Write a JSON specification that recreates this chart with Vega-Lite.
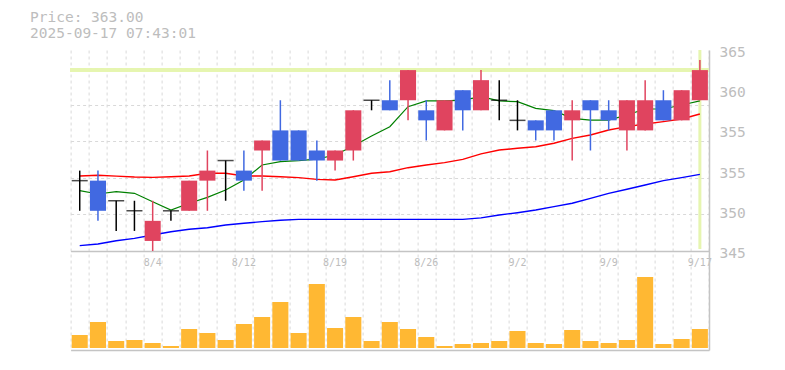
{
  "$schema": "https://vega.github.io/schema/vega-lite/v6.json",
  "width": 638.4,
  "height": 300,
  "autosize": {"type": "none"},
  "padding": {"left": 70.6, "top": 50, "right": 76, "bottom": 20},
  "background": "white",
  "title": {
    "text": ["Price: 363.00", "2025-09-17 07:43:01"],
    "anchor": "start",
    "frame": "group",
    "dx": -40.6,
    "offset": 3,
    "font": "DejaVu Sans Mono",
    "fontSize": 14.5,
    "fontWeight": "normal",
    "color": "#bdbdbd",
    "lineHeight": 16.5
  },
  "config": {
    "view": {"stroke": null},
    "axis": {"title": null, "labelFont": "DejaVu Sans Mono", "labelColor": "#bdbdbd", "gridColor": "#d9d9d9", "gridDash": [3, 3], "gridWidth": 1, "domainColor": "#c4c4c4"}
  },
  "data": {
    "values": [
      {"d": "7/29", "o": 352, "h": 353, "l": 349, "c": 352, "v": 13, "m5": 351.0, "m25": 352.46, "m75": 345.53},
      {"d": "7/30", "o": 352, "h": 353, "l": 348, "c": 349, "v": 26, "m5": 350.67, "m25": 352.53, "m75": 345.7},
      {"d": "7/31", "o": 350, "h": 350, "l": 347, "c": 350, "v": 7, "m5": 350.9, "m25": 352.45, "m75": 346.02},
      {"d": "8/1", "o": 349, "h": 350, "l": 347, "c": 349, "v": 8, "m5": 350.74, "m25": 352.36, "m75": 346.26},
      {"d": "8/4", "o": 346, "h": 350, "l": 345, "c": 348, "v": 5, "m5": 349.9, "m25": 352.33, "m75": 346.59},
      {"d": "8/5", "o": 349, "h": 349, "l": 348, "c": 349, "v": 2, "m5": 349.08, "m25": 352.39, "m75": 346.92},
      {"d": "8/6", "o": 349, "h": 352, "l": 349, "c": 352, "v": 19, "m5": 349.75, "m25": 352.46, "m75": 347.16},
      {"d": "8/7", "o": 352, "h": 355, "l": 349, "c": 353, "v": 15, "m5": 350.34, "m25": 352.73, "m75": 347.32},
      {"d": "8/8", "o": 354, "h": 354, "l": 350, "c": 354, "v": 8, "m5": 351.07, "m25": 352.73, "m75": 347.59},
      {"d": "8/12", "o": 353, "h": 355, "l": 351, "c": 352, "v": 24, "m5": 352.06, "m25": 352.46, "m75": 347.76},
      {"d": "8/13", "o": 355, "h": 356, "l": 351, "c": 356, "v": 31, "m5": 353.56, "m25": 352.46, "m75": 347.92},
      {"d": "8/14", "o": 357, "h": 360, "l": 354, "c": 354, "v": 46, "m5": 353.9, "m25": 352.39, "m75": 348.06},
      {"d": "8/15", "o": 357, "h": 357, "l": 354, "c": 354, "v": 15, "m5": 354.0, "m25": 352.3, "m75": 348.15},
      {"d": "8/18", "o": 355, "h": 356, "l": 352, "c": 354, "v": 64, "m5": 354.15, "m25": 352.13, "m75": 348.15},
      {"d": "8/19", "o": 354, "h": 355, "l": 353, "c": 355, "v": 20, "m5": 354.55, "m25": 352.06, "m75": 348.15},
      {"d": "8/20", "o": 355, "h": 359, "l": 354, "c": 359, "v": 31, "m5": 355.45, "m25": 352.39, "m75": 348.15},
      {"d": "8/21", "o": 360, "h": 360, "l": 359, "c": 360, "v": 7, "m5": 356.44, "m25": 352.73, "m75": 348.15},
      {"d": "8/22", "o": 360, "h": 362, "l": 359, "c": 359, "v": 26, "m5": 357.37, "m25": 352.89, "m75": 348.15},
      {"d": "8/25", "o": 360, "h": 363, "l": 358, "c": 363, "v": 19, "m5": 359.36, "m25": 353.29, "m75": 348.15},
      {"d": "8/26", "o": 359, "h": 360, "l": 356, "c": 358, "v": 11, "m5": 359.93, "m25": 353.56, "m75": 348.15},
      {"d": "8/27", "o": 357, "h": 360, "l": 357, "c": 360, "v": 2, "m5": 359.93, "m25": 353.79, "m75": 348.15},
      {"d": "8/28", "o": 361, "h": 361, "l": 357, "c": 359, "v": 4, "m5": 360.02, "m25": 354.12, "m75": 348.15},
      {"d": "8/29", "o": 359, "h": 363, "l": 359, "c": 362, "v": 5, "m5": 360.35, "m25": 354.67, "m75": 348.3},
      {"d": "9/1", "o": 360, "h": 362, "l": 358, "c": 360, "v": 7, "m5": 359.93, "m25": 355.05, "m75": 348.58},
      {"d": "9/2", "o": 358, "h": 360, "l": 357, "c": 358, "v": 17, "m5": 359.86, "m25": 355.22, "m75": 348.81},
      {"d": "9/3", "o": 358, "h": 358, "l": 356, "c": 357, "v": 5, "m5": 359.2, "m25": 355.38, "m75": 349.08},
      {"d": "9/4", "o": 359, "h": 359, "l": 356, "c": 357, "v": 4, "m5": 358.96, "m25": 355.72, "m75": 349.41},
      {"d": "9/5", "o": 358, "h": 360, "l": 354, "c": 359, "v": 18, "m5": 358.2, "m25": 356.21, "m75": 349.75},
      {"d": "9/8", "o": 360, "h": 360, "l": 355, "c": 359, "v": 7, "m5": 358.03, "m25": 356.54, "m75": 350.24},
      {"d": "9/9", "o": 359, "h": 360, "l": 357, "c": 358, "v": 5, "m5": 358.03, "m25": 357.04, "m75": 350.74},
      {"d": "9/10", "o": 357, "h": 360, "l": 355, "c": 360, "v": 8, "m5": 358.53, "m25": 357.37, "m75": 351.14},
      {"d": "9/11", "o": 357, "h": 362, "l": 357, "c": 360, "v": 71, "m5": 359.13, "m25": 357.64, "m75": 351.57},
      {"d": "9/12", "o": 360, "h": 361, "l": 358, "c": 358, "v": 4, "m5": 359.13, "m25": 357.87, "m75": 352.0},
      {"d": "9/16", "o": 358, "h": 361, "l": 358, "c": 361, "v": 9, "m5": 359.53, "m25": 358.13, "m75": 352.3},
      {"d": "9/17", "o": 360, "h": 364, "l": 360, "c": 363, "v": 19, "m5": 359.93, "m25": 358.63, "m75": 352.63}
    ]
  },
  "resolve": {"scale": {"y": "independent"}, "axis": {"x": "independent", "y": "independent"}},
  "layer": [
    {
      "layer": [
        {
          "mark": {"type": "rule", "color": "#e6f5b0", "strokeWidth": 3},
          "encoding": {
            "y": {"datum": 363, "type": "quantitative", "scale": {"domain": [345, 365], "range": [201, 0], "nice": false, "zero": false},
              "axis": {"orient": "right", "values": [345, 349, 353, 357, 361, 365], "labelExpr": "format(round(datum.value/5)*5, 'd')", "grid": false, "ticks": false, "domain": false, "labelPadding": 10, "labelFontSize": 14.5, "labelOffset": 2.5, "labelFlush": false, "labelOverlap": false, "title": null}}
          }
        },
        {
          "transform": [{"filter": "datum.d == '9/17'"}],
          "mark": {"type": "rule", "color": "#e6f5b0", "strokeWidth": 3},
          "encoding": {
            "x": {"field": "d", "type": "ordinal",
              "scale": {"type": "band", "domain": ["7/29","7/30","7/31","8/1","8/4","8/5","8/6","8/7","8/8","8/12","8/13","8/14","8/15","8/18","8/19","8/20","8/21","8/22","8/25","8/26","8/27","8/28","8/29","9/1","9/2","9/3","9/4","9/5","9/8","9/9","9/10","9/11","9/12","9/16","9/17"], "paddingInner": 0, "paddingOuter": 0},
              "axis": {"orient": "bottom", "offset": -99, "values": ["8/4","8/12","8/19","8/26","9/2","9/9","9/17"], "grid": false, "ticks": false, "tickSize": 0, "domain": true, "domainWidth": 1.5, "labelPadding": 6, "labelFontSize": 10, "labelAngle": 0, "labelOverlap": false, "title": null}},
            "y": {"datum": 365, "type": "quantitative"},
            "y2": {"datum": 345.2}
          }
        }
      ]
    },
    {
      "mark": {"type": "bar", "color": "#ffb833", "width": {"band": 0.88}},
      "encoding": {
        "x": {"field": "d", "type": "ordinal", "scale": {"type": "band", "paddingInner": 0, "paddingOuter": 0},
          "axis": {"orient": "bottom", "tickBand": "extent", "grid": true, "labels": false, "ticks": false, "domain": true, "domainWidth": 1.5, "title": null}},
        "y": {"field": "v", "type": "quantitative", "scale": {"domain": [-2, 298], "nice": false},
          "axis": {"orient": "right", "grid": false, "labels": false, "ticks": false, "domain": true, "domainWidth": 1.5, "title": null}}
      }
    },
    {
      "encoding": {
        "x": {"field": "d", "type": "ordinal", "scale": {"type": "band"}, "axis": null}
      },
      "layer": [
        {
          "mark": {"type": "line", "color": "#0000ff", "strokeWidth": 1.4},
          "encoding": {
            "y": {"field": "m75", "type": "quantitative", "scale": {"domain": [345, 365], "range": [201, 0], "nice": false, "zero": false},
              "axis": {"orient": "left", "values": [345, 346.818, 348.636, 350.455, 352.273, 354.091, 355.909, 357.727, 359.545, 361.364, 363.182, 365], "grid": true, "labels": false, "ticks": false, "domain": false, "title": null}}
          }
        },
        {
          "mark": {"type": "line", "color": "#ff0000", "strokeWidth": 1.4},
          "encoding": {"y": {"field": "m25", "type": "quantitative"}}
        },
        {
          "mark": {"type": "line", "color": "#008000", "strokeWidth": 1.2},
          "encoding": {"y": {"field": "m5", "type": "quantitative"}}
        },
        {
          "mark": {"type": "rule", "strokeWidth": 1.5},
          "encoding": {
            "y": {"field": "l", "type": "quantitative"},
            "y2": {"field": "h"},
            "color": {"condition": [{"test": "datum.c > datum.o", "value": "#e0445f"}, {"test": "datum.c < datum.o", "value": "#4169e1"}], "value": "#000000"}
          }
        },
        {
          "transform": [{"filter": "datum.o != datum.c"}],
          "mark": {"type": "bar", "width": {"band": 0.88}},
          "encoding": {
            "y": {"field": "o", "type": "quantitative"},
            "y2": {"field": "c"},
            "color": {"condition": {"test": "datum.c > datum.o", "value": "#e0445f"}, "value": "#4169e1"}
          }
        },
        {
          "transform": [{"filter": "datum.o == datum.c"}],
          "mark": {"type": "tick", "orient": "horizontal", "color": "#000000", "thickness": 1.5, "size": 16},
          "encoding": {"y": {"field": "c", "type": "quantitative"}}
        }
      ]
    }
  ]
}
